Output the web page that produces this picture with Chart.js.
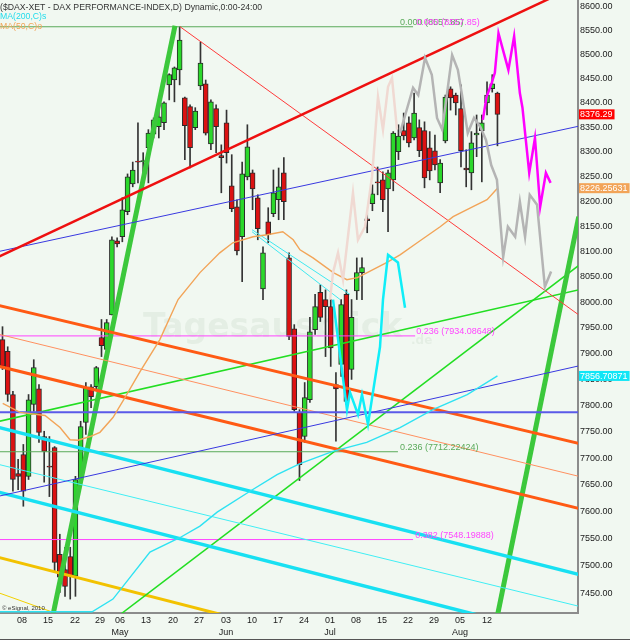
<!DOCTYPE html>
<html><head><meta charset="utf-8">
<script src="https://cdn.jsdelivr.net/npm/chart.js@4.4.1/dist/chart.umd.min.js"></script>
<style>
html,body{margin:0;padding:0;background:#f1f8f1;}
#wrap{position:relative;width:630px;height:640px;overflow:hidden;background:#f1f8f1;}
canvas{display:block;}
</style></head><body>
<div id="wrap"><canvas id="c" width="630" height="640"></canvas></div>
<script>
// ---- daily candles (index = trading day, 2 Apr .. 14 Aug 2013) ----
const open  = [7927,7904,7821,7671,7707,7666,7802,7832,7741,7685,7720,7521,7493,7517,7481,7660,7768,7836,7836,7931,7908,7975,8121,8129,8179,8235,8281,8280,8308,8336,8351,8359,8437,8447,8468,8410,8392,8349,8435,8439,8316,8388,8292,8359,8231,8189,8129,8249,8257,8207,8026,8159,8175,8203,8257,8087,7948,7787,7741,7811,7946,8019,8005,7991,7840,7879,8015,7869,8022,8058,8165,8195,8239,8243,8225,8243,8300,8343,8359,8328,8349,8343,8308,8302,8237,8322,8429,8416,8388,8267,8257,8334,8343,8400,8429,8420];
const high  = [7952,7913,7827,7698,7726,7821,7888,7840,7751,7741,7722,7558,7534,7534,7666,7770,7844,7840,7875,7966,7966,8129,8127,8207,8255,8279,8359,8298,8345,8369,8402,8402,8460,8474,8558,8412,8396,8390,8526,8447,8406,8396,8314,8385,8294,8203,8279,8355,8263,8213,8109,8187,8263,8267,8288,8097,7956,7792,7844,7970,8015,8034,8024,8005,7863,8005,8024,8005,8087,8087,8177,8233,8269,8259,8263,8341,8355,8379,8371,8420,8365,8361,8341,8334,8284,8416,8433,8420,8437,8304,8341,8375,8375,8443,8458,8422];
const low   = [7869,7808,7638,7641,7610,7660,7789,7730,7655,7628,7488,7451,7444,7439,7444,7656,7745,7796,7831,7894,7898,7975,8109,8119,8173,8229,8237,8223,8237,8328,8328,8345,8406,8402,8437,8284,8267,8345,8427,8334,8304,8298,8217,8277,8179,8093,8040,8243,8183,8123,8005,8117,8169,8163,8163,7927,7789,7658,7730,7806,7937,7962,7894,7875,7732,7856,7802,7850,8005,8005,8137,8181,8213,8179,8139,8221,8284,8324,8310,8324,8290,8227,8243,8263,8217,8318,8385,8375,8269,8229,8223,8290,8239,8375,8422,8312];
const close = [7875,7821,7660,7666,7638,7811,7873,7749,7713,7683,7506,7479,7462,7481,7660,7760,7834,7817,7873,7915,7960,8123,8115,8183,8249,8263,8279,8282,8338,8365,8371,8400,8458,8472,8530,8353,8308,8383,8482,8338,8402,8351,8288,8298,8185,8101,8255,8310,8225,8145,8097,8133,8217,8229,8199,7933,7792,7688,7815,7942,7991,7970,7991,7911,7832,7995,7808,7970,8058,8068,8161,8215,8237,8203,8257,8338,8332,8332,8318,8379,8302,8247,8261,8273,8277,8412,8410,8400,8302,8263,8318,8338,8359,8416,8439,8376.29];

// ---- axes ----
const priceTicks = [7450,7500,7550,7600,7650,7700,7750,7800,7850,7900,7950,8000,8050,8100,8150,8200,8250,8300,8350,8400,8450,8500,8550,8600];
const tickPos   = [3.74,8.73,13.92,18.71,22.55,27.54,32.73,37.72,42.9,47.89,52.88,57.87,62.86,67.85,72.84,77.83,82.82,87.81,92.99];
const tickDay   = ["08","15","22","29","06","13","20","27","03","10","17","24","01","08","15","22","29","05","12"];
const tickMonth = ["","","","","May","","","","Jun","","","","Jul","","","","","Aug",""];

// ---- moving averages (day index, value) ----
const ma50 = [[0.04,7804],[3.36,7787],[8.16,7781],[11.04,7758],[12.96,7735],[14.5,7734],[16.8,7741],[18.7,7749],[21.2,7777],[23.5,7815],[26.4,7865],[30.2,7927],[33.7,8005],[37.9,8058],[41.7,8097],[44.2,8117],[48.1,8129],[50.8,8133],[53.8,8139],[55.8,8123],[57.1,8103],[59.6,8087],[63.5,8058],[66.1,8044],[68.1,8048],[70,8058],[73.8,8078],[76.3,8093],[79.6,8117],[84,8149],[86.5,8169],[90.3,8189],[93,8203],[95,8226.25631]];
const ma200 = [[-0.6,7416],[17.2,7416],[21.2,7439],[28.3,7525],[34.1,7552],[37.9,7573],[41.2,7599],[47.5,7638],[52.7,7669],[57.1,7690],[63.4,7713],[69.9,7730],[76.3,7758],[82.6,7792],[89.2,7821],[95,7856.70871]];

// ---- projections ----
const projMagenta = [[92.2,8365],[92.9,8412],[93.9,8441],[94.5,8462],[95.2,8544],[97.1,8468],[98.2,8538],[99.3,8420],[99.8,8390],[101.1,8257],[102.2,8328],[103.2,8189],[104.3,8257],[105.2,8237]];
const projGray = [[76.3,8338],[78.8,8431],[79.8,8416],[81.1,8493],[82.4,8458],[83.4,8369],[84.4,8345],[86.3,8499],[87.4,8468],[88.2,8416],[89.3,8338],[90.5,8369],[91.7,8351],[92.8,8324],[93.8,8273],[94.9,8243],[96.1,8089],[97.0,8149],[98.4,8129],[99.3,8199],[100.3,8129],[101.2,8213],[102.6,8193],[104.1,8030],[105.3,8060]];
const projPale = [[62.86,8005],[63.44,8058],[64.4,8097],[65.36,8044],[67.27,8217],[68.23,8123],[69.58,8149],[70.92,8249],[72.07,8412],[73.03,8345],[74,8433],[74.76,8451],[75.72,8345]];
const projCyan = [[63.44,8005],[66.12,7792],[66.7,7825],[68.23,7783],[69,7821],[70.15,7764],[72.46,7913],[73.03,8005],[74,8093],[75.9,8078],[77.26,7989]];

// ---- trend lines (day index, price) ----
const redUpper     = [[-0.6,8090],[110.6,8646]];
const redFromTop   = [[34.07,8558],[110.6,7975]];
const blueUpper    = [[-0.6,8100],[110.6,8352]];
const blueLower    = [[-0.6,7629],[110.6,7876]];
const blueFlat     = [[-0.6,7787.2],[110.6,7787.2]];
const orangeUpper  = [[-0.6,7993],[110.6,7728]];
const orangeLower  = [[-0.6,7875],[110.6,7606]];
const orangeThin   = [[-0.6,7937],[110.6,7666]];
const cyanUpper    = [[-0.6,7758],[110.6,7484]];
const cyanLower    = [[-0.6,7636],[110.6,7363]];
const cyanThin     = [[-0.6,7688],[110.6,7426]];
const cyanShortA   = [[47.9,8143],[66.7,8015]];
const cyanShortB   = [[47.9,8139],[64.8,8005]];
const greenSteepL  = [[9.31,7393],[33.11,8560]];
const greenSteepR  = [[94.65,7393],[110.6,8169]];
const greenRise1   = [[-0.6,7770],[110.6,8024]];
const greenRise2   = [[20.1,7393],[110.6,8072]];
const yellowThick  = [[-0.6,7515],[49.4,7393]];
const yellowThin   = [[-0.6,7450],[16.2,7393]];

// ---- fibonacci levels ----
const fibRatios  = [0, 0, 0.236, 0.236, 0.382];
const fibValues  = [8557.85, 8557.85, 7934.08648, 7712.22424, 7548.19888];
const fibLineEnd = [78.8, 78.8, 79.2, 75.9, 78.8];
const fibLabelAt = [76.3, 79.4, 79.4, 76.3, 79.2];

const lastClose = 8376.29, ma50Last = 8226.25631, ma200Last = 7856.70871;

// ---- styles ----
const C = {red:'#dc1212', green:'#2bd82b'};
const lineStyles = [
  [projMagenta,'#ff00ff',2.5],[projGray,'#b4b4b4',2.5],[projPale,'#f0d9d2',2.5],[projCyan,'#10eef8',2.5],
  [ma50,'#f2a458',1.4],[ma200,'#2ee2f2',1.4],
  [redUpper,'#ee1010',2.5],[redFromTop,'#ff3a3a',1],
  [blueUpper,'#3838e0',1],[blueLower,'#3838e0',1],[blueFlat,'#5a5ae8',2],
  [orangeUpper,'#ff5a14',3],[orangeLower,'#ff5a14',3],[orangeThin,'#ff9060',1],
  [cyanUpper,'#18e0f2',3.5],[cyanLower,'#18e0f2',3.5],[cyanThin,'#40eef4',1],
  [cyanShortA,'#40e8f0',1],[cyanShortB,'#40e8f0',1],
  [greenSteepL,'#3cc83c',5],[greenSteepR,'#3cc83c',5],
  [greenRise1,'#22de22',1.5],[greenRise2,'#22de22',1.5],
  [yellowThick,'#f2c200',3],[yellowThin,'#f2d000',1]
];
const fibColors = ['#5aaa5a','#ff44ff','#ff44ff','#5aaa5a','#ff44ff'];

const datasets = [];
lineStyles.forEach(([pts,col,w]) => datasets.push({
  type:'line', data: pts.map(([x,y]) => ({x,y})), borderColor: col, borderWidth: w,
  pointRadius: 0, fill: false, tension: 0, clip: 0, order: 1
}));
fibValues.forEach((v,i) => { if (i === 1) return; datasets.push({
  type:'line', data:[{x:-0.6,y:v},{x:fibLineEnd[i],y:v}], borderColor: fibColors[i], borderWidth: 1,
  pointRadius: 0, fill:false, clip: 0, order: 2
});});
const days = open.map((_,i) => i);
datasets.push({type:'bar', data: days.map(i => ({x:i, y:[open[i], close[i]]})),
  backgroundColor: days.map(i => close[i] >= open[i] ? C.green : C.red),
  borderColor:'#2a2a2a', borderWidth:1, borderSkipped:false, barThickness:5, grouped:false, order:5});
datasets.push({type:'bar', data: days.map(i => ({x:i, y:[low[i], high[i]]})),
  backgroundColor:'#333333', borderWidth:0, barThickness:1, grouped:false, order:6});

const overlay = {
  id:'overlay',
  beforeDatasetsDraw(chart){
    const {ctx, chartArea:a} = chart;
    ctx.save();
    ctx.fillStyle = 'rgba(40,90,40,0.06)';
    ctx.font = 'bold 33px "DejaVu Sans"';
    ctx.textBaseline = 'alphabetic';
    ctx.fillText('Tagesausblick', a.left + 143, a.top + 337);
    ctx.font = 'bold 12px "DejaVu Sans"';
    ctx.fillText('.de', a.left + 411, a.top + 344);
    ctx.restore();
  },
  afterDatasetsDraw(chart){
    const {ctx, scales:{x,y}, chartArea:a} = chart;
    ctx.save();
    ctx.textBaseline = 'alphabetic';
    ctx.font = '9px "Liberation Sans"';
    fibValues.forEach((v,i) => {
      ctx.fillStyle = fibColors[i];
      ctx.fillText(fibRatios[i].toFixed(3) + ' (' + v + ')', x.getPixelForValue(fibLabelAt[i]), y.getPixelForValue(v) - 2);
    });
    ctx.font = '8.7px "Liberation Sans"';
    ctx.fillStyle = '#333';
    ctx.fillText('($DAX-XET - DAX PERFORMANCE-INDEX,D) Dynamic,0:00-24:00', a.left, a.top + 9.5);
    ctx.fillStyle = '#22dcec';
    ctx.fillText('MA(200,C)s', a.left, a.top + 18.5);
    ctx.fillStyle = '#f2a458';
    ctx.fillText('MA(50,C)o', a.left, a.top + 29);
    ctx.fillStyle = '#333';
    ctx.font = '6px "Liberation Sans"';
    ctx.fillText('\u00A9 eSignal, 2010', a.left + 2, a.bottom - 3);
    ctx.restore();
  },
  afterDraw(chart){
    const {ctx, scales:{y}, chartArea:a} = chart;
    ctx.save();
    ctx.font = '9px "Liberation Sans"';
    ctx.textBaseline = 'middle';
    [[lastClose, lastClose.toFixed(2), '#ff0000'], [ma50Last, ma50Last.toFixed(5), '#f2a458'], [ma200Last, ma200Last.toFixed(5), '#10e6f6']]
      .forEach(([v, txt, col]) => {
        const py = y.getPixelForValue(v);
        const w = ctx.measureText(txt).width;
        ctx.fillStyle = col;
        ctx.fillRect(a.right + 1, py - 5, w + 3, 10);
        ctx.fillStyle = '#ffffff';
        ctx.fillText(txt, a.right + 2, py + 0.5);
      });
    ctx.fillStyle = '#555';
    ctx.fillRect(0, chart.height - 1, chart.width, 1);
    ctx.restore();
  }
};

new Chart(document.getElementById('c'), {
  type:'line',
  data:{datasets},
  options:{
    responsive:false, animation:false, devicePixelRatio:1, events:[],
    layout:{padding:0, autoPadding:false},
    plugins:{legend:{display:false}, tooltip:{enabled:false}},
    scales:{
      x:{
        type:'linear', min:-0.48, max:110.46, offset:false, bounds:'data',
        grid:{display:false, drawTicks:false},
        border:{display:true, color:'#8c8c8c', width:2},
        afterBuildTicks: s => { s.ticks = tickPos.map(v => ({value:v})); },
        afterFit: s => { s.height = 27; s.paddingLeft = 0; s.paddingRight = 0; },
        ticks:{autoSkip:false, maxRotation:0, minRotation:0, padding:1, color:'#1a1a1a',
          font:{family:'Liberation Sans', size:9, lineHeight:1.35},
          callback:(v,i) => tickMonth[i] ? [tickDay[i], tickMonth[i]] : tickDay[i]}
      },
      y:{
        type:'logarithmic', position:'right', min:7413.7, max:8614.1, bounds:'data',
        grid:{display:false, drawTicks:false},
        border:{display:true, color:'#8c8c8c', width:2},
        afterBuildTicks: s => { s.ticks = priceTicks.map(v => ({value:v})); },
        afterFit: s => { s.width = 52; s.paddingTop = 0; s.paddingBottom = 0; },
        ticks:{autoSkip:false, padding:2, color:'#1a1a1a',
          font:{family:'Liberation Sans', size:9},
          callback: v => Number(v).toFixed(2)}
      }
    }
  },
  plugins:[overlay]
});
</script>
</body></html>
